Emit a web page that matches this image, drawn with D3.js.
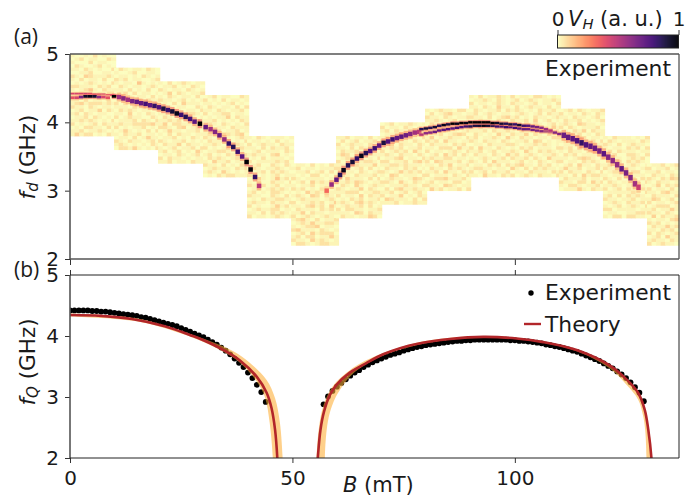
<!DOCTYPE html>
<html>
<head>
<meta charset="utf-8">
<script src="https://cdn.jsdelivr.net/npm/d3@7"></script>
<style>
  body { margin: 0; background: #fff; }
  svg { display: block; font-family: "DejaVu Sans", sans-serif; }
  text { fill: #1a1a1a; }
</style>
</head>
<body>
<svg id="chart" width="699" height="496"></svg>
<script>
// sweep windows of the heatmap: B from, B to, f from, f to (mT, GHz)
const windows = [
  [0, 10.3, 3.8, 5.0], [9.9, 20.2, 3.6, 4.8], [19.8, 30.3, 3.4, 4.6], [29.9, 40.2, 3.2, 4.4],
  [39.8, 50.3, 2.6, 3.8], [49.7, 60.4, 2.2, 3.4], [59.8, 70.1, 2.6, 3.8], [69.7, 80.2, 2.8, 4.0],
  [79.8, 90.1, 3.0, 4.2], [89.7, 110.3, 3.2, 4.4], [109.9, 120.2, 3.0, 4.2], [119.8, 130.3, 2.6, 3.8],
  [129.7, 136.9, 2.2, 3.4]
];

// background level of each window, top row first, one digit per 1 mT column
const background = [
  "1001020100 0120110021 1000201100 0210012010 1102101002 0011200110 2103211121 1020110200 0101210102 2211102120 1012410211 0120101022 0201011001 1102011020 1231222121 2110210110 0120113021 1202101100 0112021010 1121210102 2010120211 0102211020 1120112101 1312201021",
  "0210110210 1001200110 0110102101 2120110012 1011041010 0210110121 1102010200 0120201101 1211011020 0101120211 2020110102 1110212010 0212101101 1103010210 2012110021 0111202102 1211222231 2010112010 0131010202 1021120110 0110201311 2102110120 1210101021 0221310102",
  "1020121011 0112010210 2101102101 0130210112 1021011020 2110120101 0102031110 1210110021 2022101102 1101012210 0210120101 1121201031 1302211102 2210230121 0131101120 1020211011 0112010210 2101120101 0211302110 1012011202 1201201031 0110210120 2021101011 1120110211",
  "0120110021 2010201101 1101012010 0210110202 1102101120 2011220110 0101130211 1120101021 0210210102 2101102111 1022011201 1210321230 2102110121 0211220102 1121011210 2010131021 0112210110 1201021102 0212101201 1031120110 2110201021 0121110212 1210310101 0102122111",
  "1021011101 0110102010 2012110211 1102021120 0120111021 1211023010 0102011101 2011112120 1120021021 0210112101 1012021210 2101012011 0131014120 1020021102 2112012011 0120121210 1201022101 2110021020 0102112211 1211021102 2010013120 0121122011 1102021210 2011012101",
  "0110201021 1201101112 0112012020 1010220101 2101111012 0120312130 1011201120 2120102101 0103121211 1210320210 0121110121 2011212013 1102312031 0211102120 1130211011 2012101210 1231020112 0121311221 1012230110 2311102101 0120312220 1202201131 2110312101 0221012211",
  "1120110201 0201201120 2012110201 1102021112 0211202120 1320211011 0121310102 2011012210 1102211130 2120120201 0211021012 1210211120 2031110202 1121321011 0210310121 2101130210 1122201122 2011030211 0102120112 1210231210 0121120201 2022110112 1110320211 0211011320",
  "0120112101 2011021010 1202111201 0111312021 1210112102 2102110210 0130211021 1121201120 2012120310 1210211021 0112301102 2201120231 1122121110 0211021201 2101312120 1032011102 0121101321 2210310210 1011121102 0202311211 1120120120 2011301021 0321110202 1112011211",
  "1012110220 0201231101 2110210112 1121012001 0210311120 1022120201 2101211012 0112012320 1301121102 2120311011 0211102120 1102220311 2011012102 0120312021 1211220110 2032111201 1102130112 0211021210 1120311021 2011102102 0122311120 1201102201 2110321011 0312011202",
  "10201121020110221010 01121021012012101121 20110121021101201102 11021031102012110201 02101120212101021120 12012101101210120211 21102012312010211012 01211021021120301201 10121310111021210120 20201101202101021131 11120211210201102012 02101031021130210211 12011210310211011022 21021102101120320101 01102111221011212101 20311021010212011102 11201201121031021210 02110210312012101121 10121012021120210311 21020311101201021012 01102120212311021201 12211011031020212110 20120211201102111021 11031102120121021102",
  "0120210112 2011021021 1102110120 0211201012 1210321101 2021011120 0102130211 1121201021 2010320110 1202111202 0111021211 2120310102 1021102320 0212011111 1101232102 2011021210 0120311021 1311201120 2021102102 1102031221 0211120110 2110220312 1022101120 0111310211",
  "1021110102 0210111021 2102012110 1011021202 0202111011 1120022102 2011012120 0112021210 1201012101 2110111012 0122012201 1011021110 2102012021 0210111202 1121012110 2012021021 0111112102 1202021210 2110112011 0121021120 1012012102 2201111011 0110011221 1022022110",
  "0112012 2011201 1120110 0211021 2102132 1021101 0130212 2011020 1102311 0211102 1320120 2011012 0122201 1201131 2110210 0302112 1011023 2120101 0211312 1102120 2021012 0120311 1211021 2012110"
];
const backgroundLevels = [0.002, 0.02, 0.06, 0.09, 0.115, 0.13];

// ridge of the Hall signal: B, f, level (upper and lower branch where it splits)
const ridgeLeftUpper = [[0.5, 4.42, .42], [1.5, 4.42, .42], [2.5, 4.42, .42], [3.5, 4.42, .45], [4.5, 4.42, .4], [5.5, 4.41, .42], [6.5, 4.41, .4], [7.5, 4.41, .42], [8.5, 4.40, .38], [9.5, 4.40, .4], [10.5, 4.39, .38], [11.5, 4.38, .35], [12.5, 4.36, .3]];
const ridgeLeftLower = [[0.5, 4.36, .38], [1.5, 4.36, .42], [2.5, 4.37, .65], [3.5, 4.38, .92], [4.5, 4.38, .95], [5.5, 4.38, .9], [6.5, 4.37, .6], [7.5, 4.37, .42], [8.5, 4.36, .38], [9.9, 4.38, 1]];
const ridgeLeft = [[11, 4.37, .55], [12, 4.35, .62], [13, 4.33, .55], [14, 4.31, .65], [15, 4.30, .7], [16, 4.28, .7], [17, 4.27, .78], [18, 4.25, .72], [19, 4.24, .82], [20, 4.22, .75], [21, 4.20, .88], [22, 4.18, .8], [23, 4.16, .9], [24, 4.13, .95], [25, 4.11, .8], [26, 4.08, .85], [27, 4.05, .78], [28, 4.01, .72], [29.2, 3.98, 1], [30.5, 3.93, .7], [31.6, 3.90, .55], [32.6, 3.86, .62], [33.6, 3.81, .68], [34.7, 3.75, .58], [35.7, 3.69, .82], [36.7, 3.64, .85], [37.7, 3.57, .8], [38.7, 3.50, .72], [39.7, 3.42, 1], [40.6, 3.31, .98], [41.6, 3.20, .82], [42.5, 3.07, .5]];
const ridgeRight = [[57.7, 3.00, .32], [58.8, 3.09, .58], [59.9, 3.16, .7], [60.7, 3.23, .85], [61.5, 3.30, .95], [62.5, 3.37, .85], [63.5, 3.42, .9], [64.5, 3.47, .82], [65.5, 3.51, .95], [66.5, 3.55, .85], [67.5, 3.58, .75], [68.5, 3.62, .8], [69.5, 3.66, .7], [70.5, 3.70, .88], [71.5, 3.72, .75], [72.5, 3.75, .8], [73.5, 3.77, .7], [74.5, 3.79, .72], [75.5, 3.81, .68], [76.5, 3.83, .62], [77.5, 3.85, .55], [78.5, 3.86, .5]];
const ridgeSplitUpper = [[79, 3.90, .85], [80, 3.91, .9], [81, 3.92, .85], [82, 3.93, .9], [83, 3.95, .85], [84, 3.96, .95], [85, 3.97, .88], [86, 3.98, 1], [87, 3.98, .95], [88, 3.99, 1], [89, 3.99, .95], [90, 4.00, 1], [91, 4.00, 1], [92, 4.00, 1], [93, 4.00, 1], [94, 4.00, 1], [95, 3.99, .98], [96, 3.99, .92], [97, 3.98, .9], [98, 3.98, .85], [99, 3.97, .88], [100, 3.97, .82], [101, 3.96, .9], [102, 3.95, .8], [103, 3.95, .75], [104, 3.94, .7], [105, 3.93, .65], [106, 3.92, .6], [107, 3.90, .55], [108, 3.88, .5]];
const ridgeSplitLower = [[79, 3.82, .5], [80, 3.84, .6], [81, 3.85, .62], [82, 3.86, .68], [83, 3.88, .7], [84, 3.89, .72], [85, 3.90, .75], [86, 3.91, .72], [87, 3.92, .78], [88, 3.93, .75], [89, 3.94, .8], [90, 3.94, .85], [91, 3.95, .88], [92, 3.95, .9], [93, 3.95, .95], [94, 3.95, .9], [95, 3.95, .85], [96, 3.94, .8], [97, 3.94, .78], [98, 3.93, .8], [99, 3.93, .75], [100, 3.92, .78], [101, 3.91, .72], [102, 3.90, .7], [103, 3.90, .68], [104, 3.89, .65], [105, 3.88, .65], [106, 3.87, .62], [107, 3.87, .6], [108, 3.86, .6], [109, 3.85, .62], [110, 3.83, .62]];
const ridgeFall = [[111, 3.81, .68], [112, 3.78, .7], [113, 3.76, .72], [114, 3.73, .75], [115, 3.70, .82], [116, 3.67, .75], [117, 3.65, .7], [118, 3.62, .68], [119, 3.58, .65], [120, 3.54, .72], [121, 3.49, .62], [122, 3.44, .6], [123, 3.38, .58], [124, 3.32, .7], [125, 3.26, .65], [126, 3.19, .62], [127, 3.10, .55], [127.8, 3.05, .45]];

// panel (b): extracted resonance, one point per mT
const dotsLeftB = d3.range(0, 45);
const dotsLeftF = [4.42, 4.42, 4.42, 4.42, 4.42, 4.41, 4.41, 4.40, 4.40, 4.39, 4.38, 4.37, 4.36, 4.35, 4.34, 4.33, 4.31, 4.30, 4.28, 4.26, 4.24, 4.22, 4.20, 4.18, 4.16, 4.13, 4.10, 4.07, 4.04, 4.01, 3.98, 3.94, 3.90, 3.86, 3.81, 3.76, 3.70, 3.63, 3.56, 3.49, 3.40, 3.31, 3.20, 3.08, 2.92];
const dotsRightB = d3.range(57, 130);
const dotsRightF = [2.88, 3.01, 3.10, 3.17, 3.23, 3.29, 3.35, 3.40, 3.44, 3.49, 3.53, 3.57, 3.60, 3.63, 3.66, 3.69, 3.71, 3.73, 3.76, 3.78, 3.80, 3.82, 3.83, 3.85, 3.86, 3.87, 3.88, 3.89, 3.90, 3.91, 3.92, 3.92, 3.93, 3.93, 3.94, 3.94, 3.94, 3.94, 3.94, 3.94, 3.94, 3.94, 3.93, 3.93, 3.92, 3.92, 3.91, 3.90, 3.89, 3.88, 3.86, 3.85, 3.83, 3.82, 3.80, 3.78, 3.76, 3.74, 3.71, 3.68, 3.65, 3.62, 3.59, 3.55, 3.51, 3.47, 3.42, 3.37, 3.31, 3.24, 3.16, 3.07, 2.93];

// theory line and its uncertainty band
const theoryLeft = [[0, 4.345], [7, 4.33], [13.9, 4.28], [21.3, 4.16], [27.6, 4.00], [30, 3.93], [34.5, 3.77], [38.2, 3.60], [42, 3.33], [44.2, 3.07], [45.3, 2.82], [46.1, 2.46], [46.6, 2.0], [46.7, 1.8]];
const theoryRight = [[55.5, 1.8], [55.7, 2.0], [56.3, 2.46], [57.1, 2.76], [58.4, 3.03], [59.9, 3.2], [62.9, 3.40], [66.7, 3.56], [70.4, 3.70], [74.2, 3.80], [77.9, 3.87], [85.4, 3.95], [92.9, 3.985], [100.4, 3.96], [106.4, 3.90], [113.9, 3.77], [121.3, 3.52], [125.1, 3.29], [127.7, 3.07], [129.2, 2.79], [130, 2.46], [130.7, 2.0], [130.8, 1.8]];
const bandLeftOuter = [[0, 4.37], [15, 4.29], [25, 4.08], [32, 3.90], [36.7, 3.75], [40.4, 3.56], [44.2, 3.28], [46.1, 2.98], [47.2, 2.57], [47.8, 2.0], [47.9, 1.8]];
const bandLeftInner = [[0, 4.32], [15, 4.24], [25, 4.04], [30, 3.90], [34.5, 3.74], [38.2, 3.56], [42, 3.25], [43.8, 3.0], [44.9, 2.57], [45.6, 2.0], [45.7, 1.8]];
const bandRightOuter = [[55.3, 1.8], [55.4, 2.0], [55.9, 2.46], [56.7, 2.79], [58.1, 3.06], [59.9, 3.25], [62.9, 3.44], [65.2, 3.55], [70.4, 3.72], [77.9, 3.89], [85.4, 3.97], [92.9, 4.0], [100.4, 3.97], [106.4, 3.91], [113.9, 3.78], [121.3, 3.53], [125.1, 3.30], [127.7, 3.09], [129.2, 2.80], [130.2, 2.46], [130.8, 2.0], [130.9, 1.8]];
const bandRightInner = [[57.4, 1.8], [57.3, 2.0], [57.7, 2.46], [58.4, 2.74], [59.6, 2.98], [60.7, 3.12], [62.9, 3.33], [65.2, 3.47], [70.4, 3.68], [77.9, 3.85], [85.4, 3.94], [92.9, 3.97], [100.4, 3.95], [106.4, 3.89], [113.9, 3.75], [121.3, 3.47], [125.1, 3.20], [127.7, 2.96], [128.8, 2.70], [129.3, 2.46], [129.6, 2.0], [129.7, 1.8]];

const xTicks = [0, 50, 100];
const fTicks = [2, 3, 4, 5];

const svg = d3.select("#chart");
const left = 70, right = 679;
const x = d3.scaleLinear().domain([0, 136.9]).range([left, right]);
const yA = d3.scaleLinear().domain([2, 5]).range([259, 54]);
const yB = d3.scaleLinear().domain([2, 5]).range([458, 275]);
const color = (v) => d3.interpolateMagma(1 - v);

svg.append("defs").append("clipPath").attr("id", "clipB")
  .append("rect").attr("x", left).attr("y", 275).attr("width", right - left).attr("height", 183);

// Panel (a) heatmap
const heat = svg.append("g");
windows.forEach((w, i) => {
  const rows = background[i].split(" ");
  const rowH = (w[3] - w[2]) / rows.length;
  rows.forEach((row, r) => {
    const colW = (w[1] - w[0]) / row.length;
    row.split("").forEach((d, c) => {
      heat.append("rect")
        .attr("x", x(w[0] + c * colW))
        .attr("y", yA(w[3] - r * rowH))
        .attr("width", x(w[0] + colW) - x(w[0]) + 0.4)
        .attr("height", yA(0) - yA(rowH) + 0.4)
        .attr("fill", color(backgroundLevels[+d]));
    });
  });
});

function drawRidge(data, thick) {
  // pale halo first, then the cell itself
  heat.selectAll(null).data(data).enter().append("rect")
    .attr("x", (d) => x(d[0] - 0.5))
    .attr("y", (d) => yA(d[1] + thick))
    .attr("width", x(1) - x(0))
    .attr("height", yA(0) - yA(thick * 2))
    .attr("fill", (d) => color(d[2] * 0.35))
    .attr("opacity", 0.6);
  heat.selectAll(null).data(data).enter().append("rect")
    .attr("x", (d) => x(d[0] - 0.5))
    .attr("y", (d) => yA(d[1] + thick / 2))
    .attr("width", x(1) - x(0))
    .attr("height", yA(0) - yA(thick))
    .attr("fill", (d) => color(d[2]));
}
drawRidge(ridgeLeftUpper, 0.025);
drawRidge(ridgeLeftLower, 0.04);
drawRidge(ridgeLeft, 0.065);
drawRidge(ridgeRight, 0.065);
drawRidge(ridgeSplitLower, 0.035);
drawRidge(ridgeSplitUpper, 0.035);
drawRidge(ridgeFall, 0.08);

// Panel (b) dots, band, line
const plotB = svg.append("g").attr("clip-path", "url(#clipB)");
const dots = dotsLeftB.map((b, i) => [b, dotsLeftF[i]])
  .concat(dotsRightB.map((b, i) => [b, dotsRightF[i]]));
plotB.selectAll("circle").data(dots).enter().append("circle")
  .attr("cx", (d) => x(d[0]))
  .attr("cy", (d) => yB(d[1]))
  .attr("r", 2.9)
  .attr("fill", "#000");

const lineB = d3.line().x((d) => x(d[0])).y((d) => yB(d[1])).curve(d3.curveCatmullRom.alpha(0.5));
[[bandLeftOuter, bandLeftInner], [bandRightOuter, bandRightInner]].forEach((b) => {
  plotB.append("path")
    .attr("d", lineB(b[0].concat(b[1].slice().reverse())) + "Z")
    .attr("fill", "#fdae35")
    .attr("opacity", 0.58);
});
[theoryLeft, theoryRight].forEach((t) => {
  plotB.append("path")
    .attr("d", lineB(t))
    .attr("fill", "none")
    .attr("stroke", "#b2262a")
    .attr("stroke-width", 2.6);
});

// Axes
function styleAxis(g) {
  g.select(".domain").remove();
  g.selectAll(".tick line").attr("stroke", "#333").attr("stroke-width", 1);
  g.selectAll(".tick text").attr("font-size", 20).attr("font-family", "DejaVu Sans").attr("fill", "#1a1a1a");
}
svg.append("g").attr("transform", `translate(${left},0)`)
  .call(d3.axisLeft(yA).tickValues(fTicks).tickFormat(d3.format("d")).tickSize(5).tickPadding(6))
  .call(styleAxis);
svg.append("g").attr("transform", `translate(${left},0)`)
  .call(d3.axisLeft(yB).tickValues(fTicks).tickFormat(d3.format("d")).tickSize(5).tickPadding(6))
  .call(styleAxis);
svg.append("g").attr("transform", "translate(0,259)")
  .call(d3.axisBottom(x).tickValues(xTicks).tickFormat("").tickSize(6))
  .call(styleAxis);
svg.append("g").attr("transform", "translate(0,275)")
  .call(d3.axisTop(x).tickValues(xTicks).tickFormat("").tickSize(5))
  .call(styleAxis);
svg.append("g").attr("transform", "translate(0,458)")
  .call(d3.axisBottom(x).tickValues(xTicks).tickFormat(d3.format("d")).tickSize(5).tickPadding(8))
  .call(styleAxis);

// Spines
function spines(top, bottom, heavy) {
  const g = svg.append("g").attr("fill", "none");
  g.append("line").attr("x1", left).attr("x2", left).attr("y1", top).attr("y2", bottom)
    .attr("stroke", "#555").attr("stroke-width", 1.6);
  g.append("line").attr("x1", right).attr("x2", right).attr("y1", top).attr("y2", bottom)
    .attr("stroke", "#222").attr("stroke-width", 1);
  [top, bottom].forEach((y) => {
    g.append("line").attr("x1", left).attr("x2", right).attr("y1", y).attr("y2", y)
      .attr("stroke", heavy ? "#555" : "#222").attr("stroke-width", heavy ? 1.6 : 1);
  });
}
spines(54, 259, true);
spines(275, 458, false);

// Axis titles
function fLabel(cy, sub) {
  const t = svg.append("text").attr("transform", `translate(35,${cy}) rotate(-90)`)
    .attr("text-anchor", "middle").attr("font-size", 21.5);
  t.append("tspan").attr("font-style", "italic").text("f");
  t.append("tspan").attr("font-style", "italic").attr("font-size", 15).attr("dy", 3).text(sub);
  t.append("tspan").attr("dy", -3).text(" (GHz)");
}
fLabel(157, "d");
fLabel(362, "Q");

const bLabel = svg.append("text").attr("x", 343).attr("y", 492).attr("font-size", 21);
bLabel.append("tspan").attr("font-style", "italic").text("B");
bLabel.append("tspan").text(" (mT)");

svg.append("text").attr("x", 14).attr("y", 44).attr("font-size", 21).attr("font-family", "Open Sans").text("(a)");
svg.append("text").attr("x", 14).attr("y", 277).attr("font-size", 21).attr("font-family", "Open Sans").text("(b)");

// Panel labels and legend
svg.append("text").attr("x", 545).attr("y", 76).attr("font-size", 21.8).text("Experiment");
svg.append("circle").attr("cx", 531).attr("cy", 293).attr("r", 2.7).attr("fill", "#000");
svg.append("text").attr("x", 545).attr("y", 299.5).attr("font-size", 21.8).text("Experiment");
svg.append("line").attr("x1", 524).attr("x2", 541).attr("y1", 324).attr("y2", 324)
  .attr("stroke", "#b2262a").attr("stroke-width", 2.4);
svg.append("text").attr("x", 545).attr("y", 331.5).attr("font-size", 21.8).text("Theory");

// Colorbar
const cbar = d3.scaleLinear().domain([0, 1]).range([557.5, 678.5]);
svg.append("g").selectAll("rect").data(d3.range(0, 1, 1 / 121)).enter().append("rect")
  .attr("x", (d) => cbar(d))
  .attr("y", 35)
  .attr("width", 1.4)
  .attr("height", 13)
  .attr("fill", (d) => color(d));
svg.append("rect").attr("x", 557.5).attr("y", 35).attr("width", 121).attr("height", 13)
  .attr("fill", "none").attr("stroke", "#222").attr("stroke-width", 1);
svg.append("g").attr("transform", "translate(0,35)")
  .call(d3.axisTop(cbar).tickValues([0, 1]).tickFormat(d3.format("d")).tickSize(5).tickPadding(4))
  .call(styleAxis);
const cLabel = svg.append("text").attr("x", 568).attr("y", 26).attr("font-size", 21);
cLabel.append("tspan").attr("font-style", "italic").text("V");
cLabel.append("tspan").attr("font-style", "italic").attr("font-size", 14.7).attr("dy", 3).text("H");
cLabel.append("tspan").attr("dy", -3).text(" (a. u.)");
</script>
</body>
</html>
